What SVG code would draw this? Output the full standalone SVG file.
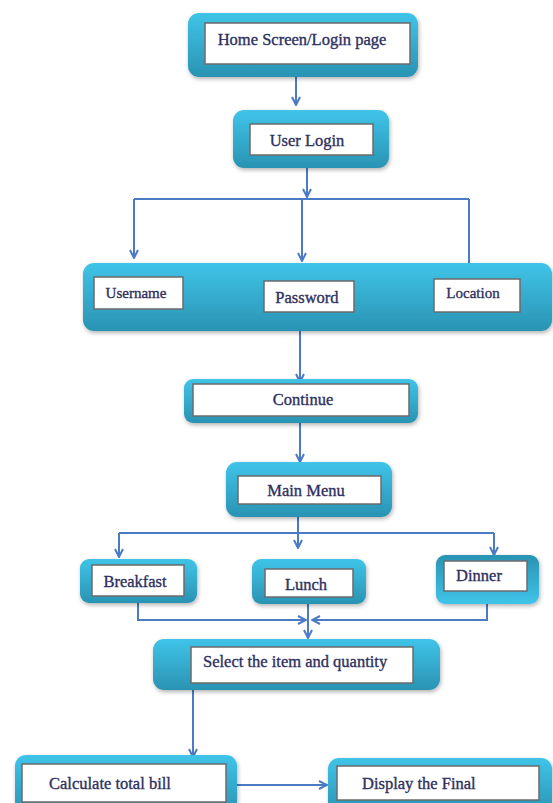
<svg xmlns="http://www.w3.org/2000/svg" width="553" height="803" viewBox="0 0 553 803">
<defs>
  <linearGradient id="g" x1="0" y1="0" x2="0" y2="1">
    <stop offset="0" stop-color="#3fc4e8"/>
    <stop offset="1" stop-color="#2a93b3"/>
  </linearGradient>
  <linearGradient id="gi" x1="0" y1="0" x2="0" y2="1">
    <stop offset="0" stop-color="#2a93b3"/>
    <stop offset="1" stop-color="#3fc4e8"/>
  </linearGradient>
  <filter id="sh" x="-10%" y="-10%" width="125%" height="140%">
    <feDropShadow dx="1" dy="2" stdDeviation="2" flood-color="#000" flood-opacity="0.3"/>
  </filter>
  <marker id="ah" viewBox="0 0 10 10" refX="9" refY="5" markerWidth="10" markerHeight="10" markerUnits="userSpaceOnUse" orient="auto">
    <path d="M1,1 L9,5 L1,9" fill="none" stroke="#4a7bc4" stroke-width="2"/>
  </marker>
</defs>
<style>
  .outer { fill: url(#g); filter: url(#sh); }
  .outerInv { fill: url(#gi); filter: url(#sh); }
  .inner { fill: #ffffff; stroke: #6b6b6b; stroke-width: 1.5; }
  .t { font-family: "Liberation Serif", "Times New Roman", serif; font-size: 16.5px; fill: #2e3060; stroke: #2e3060; stroke-width: 0.35px; }
  .ts { font-size: 15px; }
  .mid { text-anchor: middle; }
  .c { fill: none; stroke: #4a7bc4; stroke-width: 2; }
  .a { marker-end: url(#ah); }
</style>
<rect width="553" height="803" fill="#ffffff"/>

<g id="connectors">
  <path class="c a" d="M296,77 V105"/>
  <path class="c a" d="M307,168 V197"/>
  <path class="c" d="M134,199 H469"/>
  <path class="c a" d="M134,199 V258"/>
  <path class="c a" d="M302,199 V261"/>
  <path class="c a" d="M469,199 V272"/>
  <path class="c a" d="M300,331 V382"/>
  <path class="c a" d="M300,423 V462"/>
  <path class="c" d="M298,517 V533"/>
  <path class="c" d="M119,533 H494"/>
  <path class="c a" d="M119,533 V557"/>
  <path class="c a" d="M298,533 V548"/>
  <path class="c a" d="M494,533 V555"/>
  <path class="c a" d="M138,603 V620 H306"/>
  <path class="c a" d="M487,604 V620 H312"/>
  <path class="c a" d="M308,604 V638"/>
  <path class="c a" d="M193,690 V757"/>
  <path class="c a" d="M237,785 H327"/>
</g>

<g id="home">
  <rect class="outer" x="188" y="13" width="230" height="64" rx="11"/>
  <rect class="inner" x="205" y="23" width="205" height="41"/>
  <text class="t mid" x="302" y="45">Home Screen/Login page</text>
</g>

<g id="user-login">
  <rect class="outer" x="233" y="110" width="156" height="58" rx="11"/>
  <rect class="inner" x="250" y="124" width="123" height="31"/>
  <text class="t mid" x="307" y="146">User Login</text>
</g>

<g id="credentials">
  <rect class="outer" x="83" y="263" width="469" height="68" rx="11"/>
  <g id="username">
    <rect class="inner" x="94" y="277" width="89" height="32"/>
    <text class="t ts mid" x="136" y="298">Username</text>
  </g>
  <g id="password">
    <rect class="inner" x="264" y="281" width="90" height="31"/>
    <text class="t mid" x="307" y="303">Password</text>
  </g>
  <g id="location">
    <rect class="inner" x="434" y="279" width="86" height="33"/>
    <text class="t ts mid" x="473" y="298">Location</text>
  </g>
</g>

<g id="continue">
  <rect class="outer" x="184" y="379" width="234" height="44" rx="9"/>
  <rect class="inner" x="193" y="384" width="216" height="32"/>
  <text class="t mid" x="303" y="405">Continue</text>
</g>

<g id="main-menu">
  <rect class="outer" x="226" y="462" width="166" height="55" rx="11"/>
  <rect class="inner" x="238" y="476" width="143" height="28"/>
  <text class="t mid" x="306" y="496">Main Menu</text>
</g>

<g id="breakfast">
  <rect class="outer" x="80" y="559" width="117" height="44" rx="9"/>
  <rect class="inner" x="92" y="565" width="92" height="31"/>
  <text class="t mid" x="135" y="587">Breakfast</text>
</g>

<g id="lunch">
  <rect class="outer" x="252" y="559" width="114" height="45" rx="9"/>
  <rect class="inner" x="265" y="569" width="88" height="28"/>
  <text class="t mid" x="306" y="590">Lunch</text>
</g>

<g id="dinner">
  <rect class="outerInv" x="436" y="555" width="103" height="49" rx="9"/>
  <rect class="inner" x="444" y="561" width="83" height="30"/>
  <text class="t mid" x="479" y="581">Dinner</text>
</g>

<g id="select">
  <rect class="outer" x="153" y="639" width="287" height="51" rx="11"/>
  <rect class="inner" x="191" y="647" width="222" height="36"/>
  <text class="t" x="203" y="667">Select the item and quantity</text>
</g>

<g id="calculate">
  <rect class="outer" x="15" y="755" width="222" height="60" rx="11"/>
  <rect class="inner" x="22" y="764" width="204" height="38"/>
  <text class="t" x="49" y="789">Calculate total bill</text>
</g>

<g id="display">
  <rect class="outer" x="328" y="758" width="224" height="57" rx="11"/>
  <rect class="inner" x="337" y="766" width="202" height="34"/>
  <text class="t" x="362" y="789">Display the Final</text>
</g>
</svg>
